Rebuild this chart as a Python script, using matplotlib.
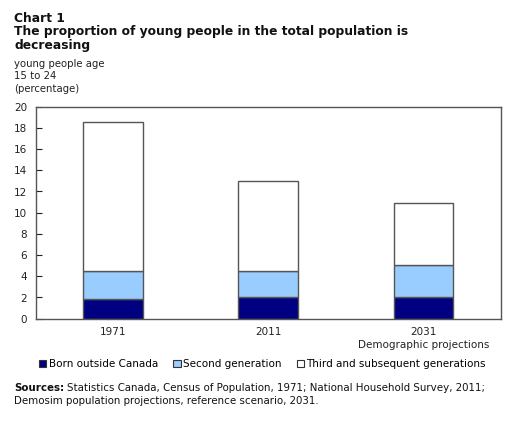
import matplotlib
matplotlib.use("Agg")
import matplotlib.pyplot as plt
from matplotlib.patches import Patch

plt.rcParams['font.family'] = ['DejaVu Sans']

categories = ["1971", "2011", "2031\nDemographic projections"]
series_names = ["Born outside Canada", "Second generation", "Third and subsequent generations"]
born_outside = [1.9, 2.0, 2.0]
second_gen = [2.6, 2.5, 3.1]
third_gen = [14.1, 8.5, 5.8]
colors = ["#000080", "#99ccff", "#ffffff"]
yticks = [0, 2, 4, 6, 8, 10, 12, 14, 16, 18, 20]

fig = plt.figure(figsize=(5.25, 4.23), dpi=100)
ax = fig.add_axes([35.5/525, 1 - 318.7/423, (501 - 35.5)/525, (318.7 - 106.7)/423])

x = list(range(len(categories)))
width = 0.384
bottom = [0.0] * len(x)
for vals, col, name in zip([born_outside, second_gen, third_gen], colors, series_names):
    ax.bar(x, vals, width, bottom=bottom, color=col, edgecolor="#555555", linewidth=1.0, label=name)
    bottom = [b + v for b, v in zip(bottom, vals)]

ax.set_xlim(-0.5, 2.5)
ax.set_ylim(0, 20)
ax.set_yticks(yticks)
ax.set_xticks(x)
ax.set_xticklabels(categories, fontsize=7.5, color="#222222", linespacing=1.35)
ax.tick_params(axis='x', length=0, pad=6)
ax.tick_params(axis='y', direction='in', length=4, labelsize=7.5, colors="#222222", pad=6, width=0.8)
for lab in ax.get_xticklabels():
    lab.set_multialignment('center')
for s in ax.spines.values():
    s.set_color("#555555")
    s.set_linewidth(1.0)

fig.text(14/525, 1 - 12/423, "Chart 1\nThe proportion of young people in the total population is\ndecreasing",
         fontsize=8.8, fontweight='bold', va='top', ha='left', linespacing=1.05, color="#111111")
fig.text(14/525, 1 - 59/423, "young people age\n15 to 24\n(percentage)",
         fontsize=7.3, va='top', ha='left', linespacing=1.3, color="#222222")

handles = [Patch(facecolor=c, edgecolor="#333333", linewidth=0.8) for c in colors]
fig.legend(handles, series_names, loc='center', bbox_to_anchor=(0.5, 1 - 364/423), ncol=3,
           frameon=False, fontsize=7.5, handlelength=0.7, handleheight=0.7, handletextpad=0.2,
           columnspacing=1.5)

t1 = fig.text(14/525, 1 - 383/423, "Sources:", fontsize=7.4, fontweight='bold',
              va='top', ha='left', color="#111111")
fig.canvas.draw()
bb = t1.get_window_extent()
fig.text((bb.x1 + 3) / 525, 1 - 383/423,
         "Statistics Canada, Census of Population, 1971; National Household Survey, 2011;",
         fontsize=7.4, va='top', ha='left', color="#111111")
fig.text(14/525, 1 - 396/423, "Demosim population projections, reference scenario, 2031.",
         fontsize=7.4, va='top', ha='left', color="#111111")

fig.savefig("out.png", dpi=100, facecolor="white")
